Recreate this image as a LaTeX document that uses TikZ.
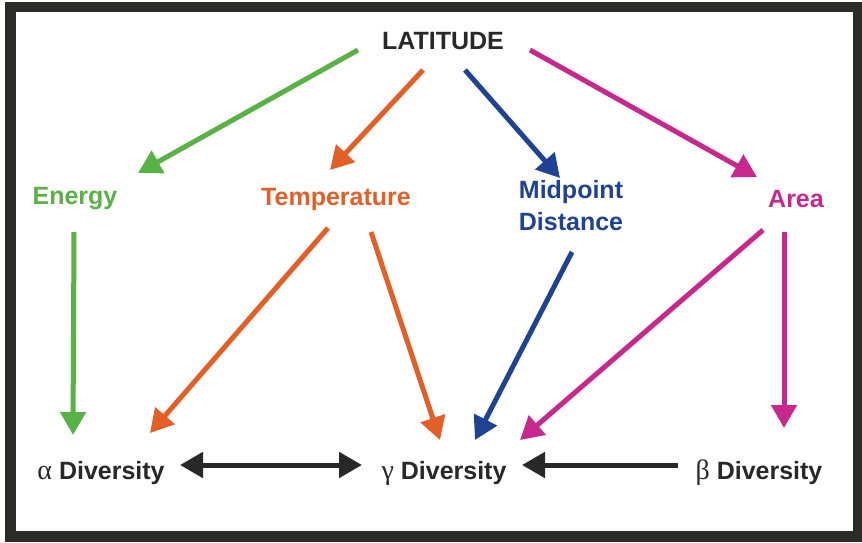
\documentclass[tikz,border=0pt]{standalone}
\usepackage{fontspec}
\setmainfont{Liberation Sans}
\newfontfamily\grk{Liberation Serif}
\usetikzlibrary{arrows.meta}
\definecolor{framec}{RGB}{45,42,42}
\definecolor{greenc}{RGB}{88,178,70}
\definecolor{orangec}{RGB}{227,95,38}
\definecolor{bluec}{RGB}{30,66,148}
\definecolor{magc}{RGB}{200,40,142}
\definecolor{blackc}{RGB}{40,40,40}
\definecolor{textc}{RGB}{40,40,40}
\tikzset{
  lbl/.style={inner sep=0pt, font=\fontsize{25}{32}\selectfont\bfseries, align=center},
  arr/.style={line width=5pt, -{Triangle[length=23pt,width=25pt]}},
  darr/.style={line width=5pt, {Triangle[length=23pt,width=25pt]}-{Triangle[length=23pt,width=25pt]}},
}
\begin{document}
\begin{tikzpicture}[x=1pt,y=-1pt]
\useasboundingbox (0,0) rectangle (862,542);
\fill[framec] (5,2) rectangle (862,542);
\fill[white] (16,12) rectangle (853,531);

\node[lbl, text=textc] (lat) at (443,41) {LATITUDE};
\node[lbl, text=greenc] (energy) at (75,199) {Energy};
\node[lbl, text=orangec] (temp) at (336,199) {Temperature};
\node[lbl, text=bluec] (mid) at (571,206) {Midpoint\\Distance};
\node[lbl, text=magc] (area) at (796,199) {Area};
\node[lbl, text=textc] (alpha) at (101,473) {{\grk\mdseries\fontsize{28}{32}\selectfont α} Diversity};
\node[lbl, text=textc] (gamma) at (444,473) {{\grk\mdseries\fontsize{28}{32}\selectfont γ} Diversity};
\node[lbl, text=textc] (beta) at (759,473) {{\grk\mdseries\fontsize{28}{32}\selectfont β} Diversity};

% green
\draw[arr, greenc] ([shift={(-85,9)}]lat.center) -- ([shift={(63,-26)}]energy.center);
\draw[arr, greenc] ([shift={(-1,33)}]energy.center) -- ([shift={(-28,-38)}]alpha.center);
% orange
\draw[arr, orangec] ([shift={(-20,29)}]lat.center) -- ([shift={(-6,-29)}]temp.center);
\draw[arr, orangec] ([shift={(-8,29)}]temp.center) -- ([shift={(49,-40)}]alpha.center);
\draw[arr, orangec] ([shift={(35,33)}]temp.center) -- ([shift={(-4,-33)}]gamma.center);
% blue
\draw[arr, bluec] ([shift={(22,29)}]lat.center) -- ([shift={(-11,-28)}]mid.center);
\draw[arr, bluec] ([shift={(1,46)}]mid.center) -- ([shift={(31,-33)}]gamma.center);
% magenta
\draw[arr, magc] ([shift={(87,9)}]lat.center) -- ([shift={(-39,-22)}]area.center);
\draw[arr, magc] ([shift={(-33,31)}]area.center) -- ([shift={(76,-33)}]gamma.center);
\draw[arr, magc] ([shift={(-12,33)}]area.center) -- ([shift={(25,-45)}]beta.center);
% black
\draw[darr, blackc] ([shift={(79,-8)}]alpha.center) -- ([shift={(-82,-8)}]gamma.center);
\draw[arr, blackc] ([shift={(-81,-8)}]beta.center) -- ([shift={(78,-8)}]gamma.center);
\end{tikzpicture}
\end{document}
